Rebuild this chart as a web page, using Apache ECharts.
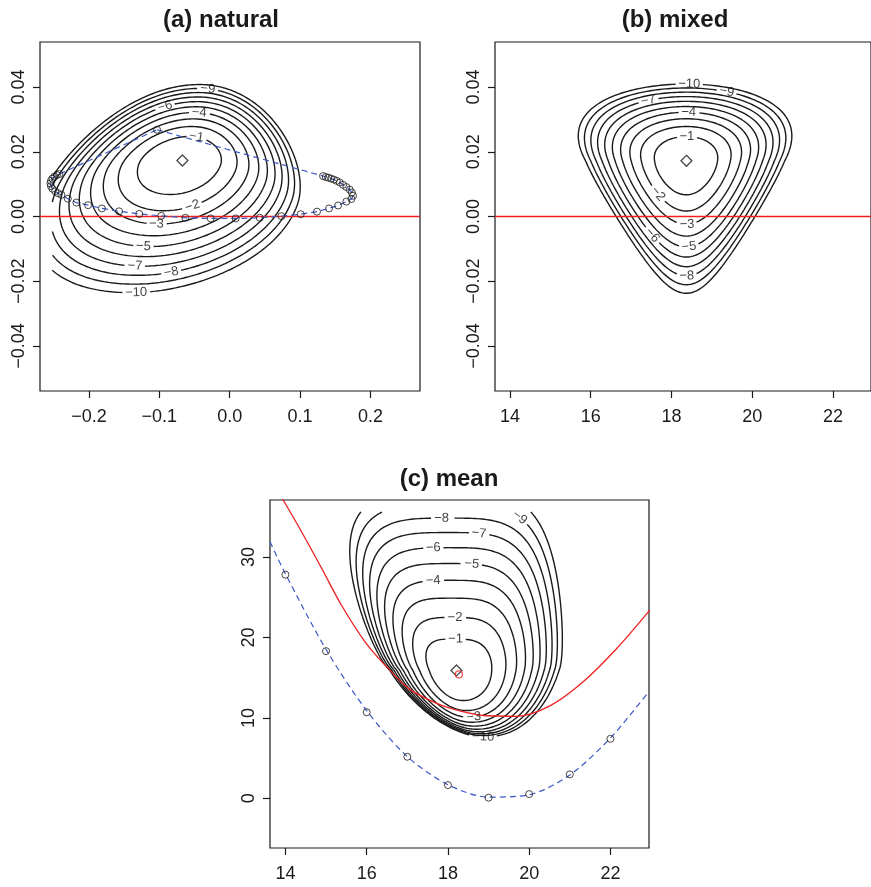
<!DOCTYPE html>
<html><head><meta charset="utf-8">
<script src="https://cdn.jsdelivr.net/npm/echarts@6/dist/echarts.min.js"></script>
<style>html,body{margin:0;padding:0;background:#fff}#c{width:871px;height:887px}</style>
</head><body><div id="c"></div>
<script>
// ---------------- axes & ticks ----------------
const natXRange = [-0.2695, 0.2703];
const parYRange = [-0.0539, 0.0539];
const mixXRange = [13.63, 22.94];
const meanXRange = [13.62, 22.95];
const meanYRange = [-6.17, 37.08];
const natXTicks = [-0.2, -0.1, 0, 0.1, 0.2];
const parYTicks = [-0.04, -0.02, 0, 0.02, 0.04];
const muXTicks = [14, 16, 18, 20, 22];
const meanYTicks = [0, 10, 20, 30];
const titles = ['(a) natural', '(b) mixed', '(c) mean'];

// ---------------- contour levels ----------------
const levels = [-1, -2, -3, -4, -5, -6, -7, -8, -9, -10];

// ---------------- maxima (diamonds) ----------------
const natMode = [-0.0672, 0.0173];
const mixMode = [18.37, 0.0172];
const meanMode = [18.21, 15.9];
const meanNull = [18.27, 15.4];

// ---------------- panel (a) path of points ----------------
const natPathX = [-0.1032, 0.1326, 0.1365, 0.1400, 0.1440, 0.1480, 0.1520, 0.1563, 0.1610, 0.1657, 0.1705, 0.1735, 0.1752, 0.1729, 0.1657,
  0.1539, 0.1411, 0.1240, 0.1009, 0.0734, 0.0426, 0.0085, -0.0270, -0.0630, -0.0973, -0.1285, -0.1572, -0.1816, -0.2012, -0.2178, -0.2300,
  -0.2391, -0.2440, -0.2480, -0.2519, -0.2540, -0.2547, -0.2540, -0.2520, -0.2490, -0.2455, -0.2420];
const natPathY = [0.0268, 0.0125, 0.0122, 0.0120, 0.0117, 0.0114, 0.0110, 0.0105, 0.0098, 0.0091, 0.0083, 0.0074, 0.0064, 0.0054, 0.0046,
  0.0034, 0.0025, 0.0015, 0.0007, 0.0001, -0.0004, -0.0006, -0.0006, -0.0004, 0.0002, 0.0008, 0.0016, 0.0025, 0.0035, 0.0043, 0.0055,
  0.0067, 0.0072, 0.0078, 0.0086, 0.0094, 0.0102, 0.0110, 0.0117, 0.0123, 0.0128, 0.0131];

// ---------------- panel (c) data ----------------
const obsX = [14, 15, 16, 17, 18, 19, 20, 21, 22];
const obsY = [27.8, 18.3, 10.7, 5.17, 1.65, 0.08, 0.53, 2.98, 7.4];
const fitX = [13.62, 14, 15, 16, 17, 18, 19, 20, 21, 22, 22.95];
const fitY = [31.9, 27.9, 18.5, 10.9, 5.2, 1.7, 0.15, 0.45, 2.9, 7.5, 13.3];
const nullX = [13.93, 14.40, 14.89, 15.38, 15.96, 16.45, 17.02, 17.51, 18.05, 18.87, 19.69, 20.51, 21.33, 22.15, 22.97];
const nullY = [37.2, 33.1, 28.6, 24.0, 19.45, 16.56, 13.7, 12.3, 11.2, 10.3, 10.2, 11.5, 14.5, 18.6, 23.4];

// ---------------- contour label anchors ----------------
const natLabX = [-0.0473, -0.0545, -0.1042, -0.0426, -0.1231, -0.0923, -0.1349, -0.0829, -0.0308, -0.1326];
const natLabY = [0.0247, 0.0041, -0.0029, 0.0332, -0.0098, 0.0342, -0.0155, -0.0170, 0.0397, -0.0237];
const mixLabX = [18.38, 17.59, 18.38, 18.42, 18.42, 17.46, 17.41, 18.38, 19.37, 18.45];
const mixLabY = [0.0247, 0.0062, -0.0010, 0.0335, -0.0082, -0.0064, 0.0371, -0.0173, 0.0392, 0.0407];
const meanLabX = [18.18, 18.18, 18.63, 17.64, 18.59, 17.64, 18.75, 17.83, 19.65, 18.87];
const meanLabY = [19.75, 22.55, 10.35, 27.03, 28.6, 31.05, 32.2, 34.8, 34.16, 7.65];

// ---------------- contour shape estimates (per panel) ----------------
// upper half-width growth: right side (alr, al2r), left side (all, al2l); lower half: aln; nu: squareness of upper half
const natShape = {u1: 0.00742, u2: 0, u3: 0, d1: 0.0094, d2: 0.00111, r1: 0.0554, r2: 0, l1: 0.0611, l2: 0,
  alr: 0, al2r: 0, all: 0, al2l: 0, aln: 0, sku: 1.515, skd: 1.515, dx: -0.00114, e: -0.00133, nu: 2};
const mixShape = {u1: 0.0075, u2: 0, u3: 0, d1: 0.00937, d2: 0.00113, r1: 0.77, r2: 0, l1: 0.79, l2: 0,
  alr: 0.13, al2r: 0, all: 0.13, al2l: 0, aln: 0.13, sku: 0, skd: 0, dx: 0, e: 0, nu: 2};
const meanShape = {u1: 1.787, u2: 2.32, u3: -0.207, d1: 4.27, d2: -0.525, r1: 0.9, r2: -0.077, l1: 0.74, l2: -0.025,
  alr: 0.1, al2r: 0, all: 0.16, al2l: 0.011, aln: 0.19, sku: -0.03, skd: -0.03, dx: 0.045, e: 0, nu: 3.3};

// ---------------- layout ----------------
const gA = {left: 40, top: 42, width: 380, height: 349};
const gB = {left: 495, top: 42, width: 380, height: 349};
const gC = {left: 270, top: 500, width: 379, height: 348};

function toPx(g, xr, yr, x, y) {
  return [g.left + (x - xr[0]) / (xr[1] - xr[0]) * g.width, g.top + (yr[1] - y) / (yr[1] - yr[0]) * g.height];
}

function shapePoint(S, c, r, t) {
  let p = r * Math.cos(t), q = r * Math.sin(t);
  if (q > 0 && S.nu !== 2) {
    const ex = 2 / S.nu, ct = Math.cos(t);
    p = r * Math.sign(ct) * Math.pow(Math.abs(ct), ex);
    q = r * Math.pow(Math.sin(t), ex);
  }
  const V = q >= 0 ? S.u1 * q + S.u2 * q * q + S.u3 * q * q * q : S.d1 * q - S.d2 * q * q;
  const H = p >= 0 ? S.r1 * p + S.r2 * p * p : S.l1 * p - S.l2 * p * p;
  let w;
  if (q < 0) w = 1 + S.aln * q;
  else if (p >= 0) w = 1 + S.alr * q + S.al2r * q * q;
  else w = 1 + S.all * q + S.al2l * q * q;
  const sk = V >= 0 ? S.sku : S.skd;
  return [c[0] + H * w + sk * V + S.dx * r * r, c[1] + V + S.e * p * p];
}

function buildContours(S, c, g, xr, yr, inside, labX, labY) {
  const lineData = [], labData = [];
  const N = 900;
  levels.forEach((lev, i) => {
    const r = Math.sqrt(-lev);
    const pts = [], pxs = [];
    for (let j = 0; j < N; j++) {
      const t = -Math.PI + 2 * Math.PI * j / N;
      const pt = shapePoint(S, c, r, t);
      pts.push(pt);
      pxs.push(toPx(g, xr, yr, pt[0], pt[1]));
    }
    const ok = pts.map(inside);
    const a = toPx(g, xr, yr, labX[i], labY[i]);
    let best = -1, bd = 1e9;
    for (let j = 0; j < N; j++) {
      if (!ok[j]) continue;
      const d = Math.hypot(pxs[j][0] - a[0], pxs[j][1] - a[1]);
      if (d < bd) { bd = d; best = j; }
    }
    const txt = '\u2212' + (-lev);
    const tw = 7.6 + 7.23 * (txt.length - 1);
    const half = tw / 2 + 2.5;
    // tangent from points about 5px away along the curve
    const L = pxs[best];
    let jb = best, jf = best;
    for (let k = 1; k < N / 4; k++) { jb = (best - k + N) % N; if (Math.hypot(pxs[jb][0] - L[0], pxs[jb][1] - L[1]) > 5) break; }
    for (let k = 1; k < N / 4; k++) { jf = (best + k) % N; if (Math.hypot(pxs[jf][0] - L[0], pxs[jf][1] - L[1]) > 5) break; }
    const P0 = pxs[jb], P1 = pxs[jf];
    let ang = Math.atan2(-(P1[1] - P0[1]), P1[0] - P0[0]) * 180 / Math.PI;
    if (ang > 90) ang -= 180;
    if (ang < -90) ang += 180;
    const gap = pxs.map(p => Math.hypot(p[0] - L[0], p[1] - L[1]) < half);
    labData.push({name: txt, value: pts[best], label: {rotate: ang}});
    let s = 0;
    for (let j = 0; j < N; j++) { if (gap[j] || !ok[j]) { s = j; break; } }
    const data = [];
    for (let k = 0; k <= N; k++) {
      const j = (s + k) % N;
      if (gap[j] || !ok[j]) data.push(['-', '-']); else data.push(pts[j]);
    }
    lineData.push(data);
  });
  return {lineData, labData};
}

const cA = buildContours(natShape, natMode, gA, natXRange, parYRange, p => p[0] >= -0.252, natLabX, natLabY);
const cB = buildContours(mixShape, mixMode, gB, mixXRange, parYRange, p => true, mixLabX, mixLabY);
const cC = buildContours(meanShape, meanMode, gC, meanXRange, meanYRange, p => p[1] <= 35.6, meanLabX, meanLabY);

const FONT = "'Liberation Sans', Arial, Helvetica, sans-serif";
const INK = '#1a1a1a';
const RED = '#ee2020';
const BLUE = '#3d58c6';
const minus = s => String(s).replace('-', '\u2212');

function xAxis(gi, range, ticks, dec) {
  return {type: 'value', gridIndex: gi, min: range[0], max: range[1],
    axisLine: {show: false, onZero: false}, splitLine: {show: false},
    axisTick: {show: true, inside: false, length: 7, lineStyle: {color: INK, width: 1.2}, customValues: ticks},
    axisLabel: {customValues: ticks, margin: 17, color: INK, fontSize: 18, fontFamily: FONT,
      formatter: v => minus(dec == null ? v : Number(v).toFixed(dec))}};
}
function yAxis(gi, range, ticks, dec) {
  return {type: 'value', gridIndex: gi, min: range[0], max: range[1],
    axisLine: {show: false, onZero: false}, splitLine: {show: false},
    axisTick: {show: true, inside: false, length: 7, lineStyle: {color: INK, width: 1.2}, customValues: ticks},
    axisLabel: {customValues: ticks, rotate: 90, margin: 12, color: INK, fontSize: 18, fontFamily: FONT,
      formatter: v => minus(dec == null ? v : Number(v).toFixed(dec))}};
}

const series = [];
function addContours(cc, gi) {
  cc.lineData.forEach(d => series.push({type: 'line', xAxisIndex: gi, yAxisIndex: gi, data: d, showSymbol: false,
    connectNulls: false, silent: true, z: 2, lineStyle: {color: INK, width: 1.4}}));
  series.push({type: 'scatter', xAxisIndex: gi, yAxisIndex: gi, data: cc.labData, symbolSize: 1, z: 6,
    itemStyle: {color: 'rgba(0,0,0,0)'}, label: {show: true, position: 'inside', formatter: '{b}', color: '#111', fontSize: 13, fontFamily: FONT}});
}
addContours(cA, 0); addContours(cB, 1); addContours(cC, 2);

// red null lines (theta2 = 0)
series.push({type: 'line', xAxisIndex: 0, yAxisIndex: 0, data: [[natXRange[0], 0], [natXRange[1], 0]], showSymbol: false, z: 3, lineStyle: {color: RED, width: 1.3}});
series.push({type: 'line', xAxisIndex: 1, yAxisIndex: 1, data: [[mixXRange[0], 0], [mixXRange[1], 0]], showSymbol: false, z: 3, lineStyle: {color: RED, width: 1.3}});
// panel (a) path
const natPath = natPathX.map((x, i) => [x, natPathY[i]]);
series.push({type: 'line', xAxisIndex: 0, yAxisIndex: 0, data: natPath.concat([natPath[0]]), showSymbol: false, z: 4,
  lineStyle: {color: BLUE, width: 1.2, type: [6, 4]}});
series.push({type: 'scatter', xAxisIndex: 0, yAxisIndex: 0, data: natPath, symbol: 'circle', symbolSize: 7, z: 5,
  itemStyle: {color: 'rgba(0,0,0,0)', borderColor: INK, borderWidth: 1}});
// diamonds
series.push({type: 'scatter', xAxisIndex: 0, yAxisIndex: 0, data: [natMode], symbol: 'diamond', symbolSize: 11, z: 5,
  itemStyle: {color: 'rgba(0,0,0,0)', borderColor: INK, borderWidth: 1.3}});
series.push({type: 'scatter', xAxisIndex: 1, yAxisIndex: 1, data: [mixMode], symbol: 'diamond', symbolSize: 11, z: 5,
  itemStyle: {color: 'rgba(0,0,0,0)', borderColor: INK, borderWidth: 1.3}});
// panel (c)
series.push({type: 'line', xAxisIndex: 2, yAxisIndex: 2, data: nullX.map((x, i) => [x, nullY[i]]), showSymbol: false, smooth: 0.3, z: 3,
  lineStyle: {color: RED, width: 1.3}});
series.push({type: 'line', xAxisIndex: 2, yAxisIndex: 2, data: fitX.map((x, i) => [x, fitY[i]]), showSymbol: false, smooth: 0.3, z: 4,
  lineStyle: {color: BLUE, width: 1.2, type: [6, 4]}});
series.push({type: 'scatter', xAxisIndex: 2, yAxisIndex: 2, data: obsX.map((x, i) => [x, obsY[i]]), symbol: 'circle', symbolSize: 7, z: 5,
  itemStyle: {color: 'rgba(0,0,0,0)', borderColor: INK, borderWidth: 1}});
series.push({type: 'scatter', xAxisIndex: 2, yAxisIndex: 2, data: [meanMode], symbol: 'diamond', symbolSize: 11, z: 5,
  itemStyle: {color: 'rgba(0,0,0,0)', borderColor: INK, borderWidth: 1.3}});
series.push({type: 'scatter', xAxisIndex: 2, yAxisIndex: 2, data: [meanNull], symbol: 'circle', symbolSize: 7, z: 6,
  itemStyle: {color: 'rgba(0,0,0,0)', borderColor: RED, borderWidth: 1.2}});

const chart = echarts.init(document.getElementById('c'), null, {renderer: 'canvas'});
chart.setOption({
  animation: false,
  backgroundColor: '#fff',
  title: [
    {text: titles[0], left: 216, top: 3, textAlign: 'center', textStyle: {fontSize: 24, fontWeight: 'bold', color: INK, fontFamily: FONT}},
    {text: titles[1], left: 670, top: 3, textAlign: 'center', textStyle: {fontSize: 24, fontWeight: 'bold', color: INK, fontFamily: FONT}},
    {text: titles[2], left: 444, top: 462, textAlign: 'center', textStyle: {fontSize: 24, fontWeight: 'bold', color: INK, fontFamily: FONT}}
  ],
  grid: [gA, gB, gC].map(g => Object.assign({show: true, borderColor: INK, borderWidth: 1.2, backgroundColor: 'rgba(0,0,0,0)', containLabel: false}, g)),
  xAxis: [xAxis(0, natXRange, natXTicks, 1), xAxis(1, mixXRange, muXTicks), xAxis(2, meanXRange, muXTicks)],
  yAxis: [yAxis(0, parYRange, parYTicks, 2), yAxis(1, parYRange, parYTicks, 2), yAxis(2, meanYRange, meanYTicks)],
  series: series
});
</script></body></html>
